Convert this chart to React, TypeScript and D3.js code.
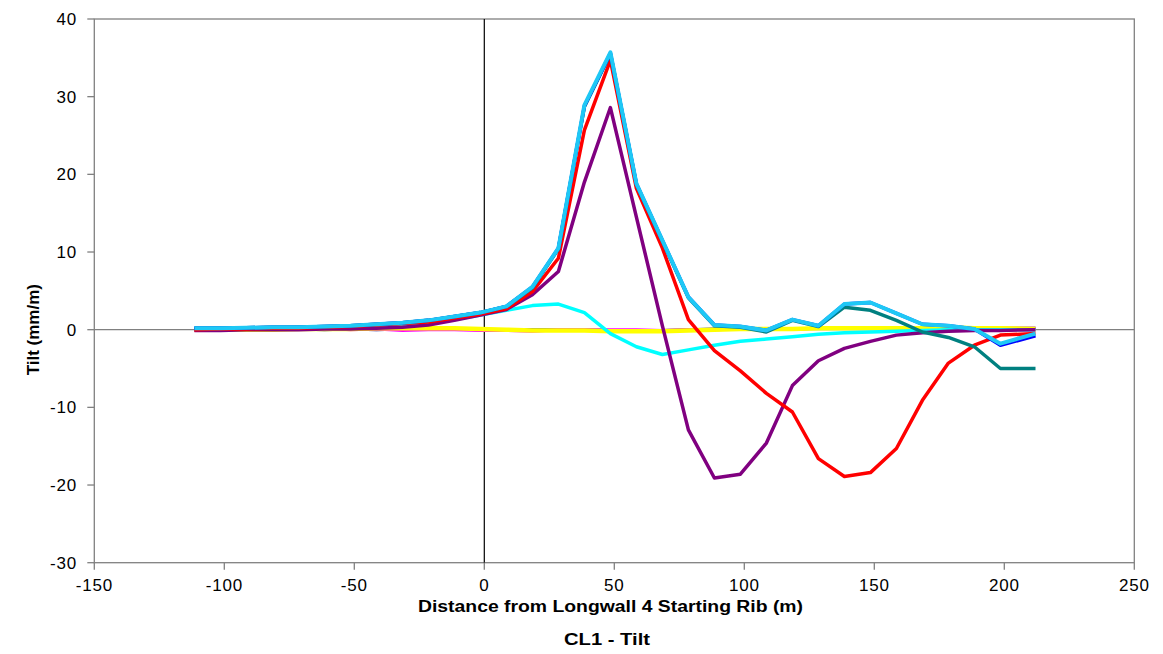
import React from "react";
import * as d3 from "d3";

const xValues = [-111.5, -101.5, -91.5, -81.5, -71.5, -61.5, -51.5, -41.5, -31.5, -21.5, -11.5, -1.5, 8.5, 18.5, 28.5, 38.5, 48.5, 58.5, 68.5, 78.5, 88.5, 98.5, 108.5, 118.5, 128.5, 138.5, 148.5, 158.5, 168.5, 178.5, 188.5, 198.5, 212];

const navy = [0.0, 0.0, 0.0, 0.0, 0.1, 0.0, 0.1, 0.0, 0.1, 0.1, 0.1, 0.0, 0.0, 0.0, 0.0, 0.0, -0.1, -0.1, -0.1, 0.0, 0.1, 0.1, 0.1, 0.1, 0.2, 0.2, 0.2, 0.2, 0.2, 0.2, 0.2, 0.2, 0.2];
const magenta = [-0.1, 0.1, 0.0, 0.0, 0.1, 0.2, 0.0, 0.1, -0.1, 0.0, 0.0, -0.1, -0.1, -0.2, 0.0, 0.0, 0.0, 0.0, -0.1, 0.0, 0.0, 0.1, 0.1, 0.1, 0.2, 0.2, 0.2, 0.2, 0.2, 0.2, 0.2, 0.2, 0.2];
const yellow = [0.0, 0.0, 0.0, 0.0, 0.1, 0.1, 0.1, 0.2, 0.2, 0.2, 0.2, 0.1, 0.0, -0.1, -0.1, -0.1, -0.2, -0.2, -0.2, -0.1, 0.0, 0.1, 0.1, 0.1, 0.2, 0.2, 0.2, 0.2, 0.2, 0.3, 0.2, 0.2, 0.1];
const cyan = [0.2, 0.2, 0.2, 0.2, 0.3, 0.3, 0.4, 0.5, 0.7, 0.9, 1.3, 1.9, 2.5, 3.1, 3.3, 2.2, -0.5, -2.2, -3.2, -2.6, -2.0, -1.5, -1.2, -0.9, -0.6, -0.4, -0.3, -0.2, -0.1, 0.0, 0.0, 0.0, 0.0];
const purple = [-0.1, -0.1, 0.0, 0.0, 0.0, 0.1, 0.1, 0.2, 0.3, 0.6, 1.2, 1.9, 2.6, 4.5, 7.5, 19.0, 28.6, 14.5, 0.5, -12.9, -19.1, -18.6, -14.6, -7.2, -4.0, -2.4, -1.5, -0.7, -0.4, -0.2, -0.1, -0.1, 0.0];
const red = [0.0, 0.1, 0.1, 0.2, 0.2, 0.3, 0.4, 0.6, 0.8, 1.0, 1.5, 2.0, 2.7, 4.9, 9.2, 25.7, 34.7, 18.2, 10.5, 1.3, -2.7, -5.3, -8.2, -10.6, -16.6, -18.9, -18.4, -15.3, -9.1, -4.3, -2.0, -0.7, -0.5];
const teal = [0.2, 0.2, 0.25, 0.3, 0.3, 0.4, 0.5, 0.7, 0.9, 1.2, 1.7, 2.2, 3.0, 5.4, 10.4, 28.7, 35.5, 18.7, 11.4, 4.1, 0.5, 0.3, -0.3, 1.2, 0.4, 2.9, 2.5, 1.2, -0.3, -1.0, -2.2, -5.0, -5.0];
const blue = [0.2, 0.2, 0.25, 0.3, 0.3, 0.4, 0.5, 0.7, 0.9, 1.2, 1.7, 2.2, 3.0, 5.5, 10.5, 28.8, 35.6, 18.8, 11.5, 4.2, 0.6, 0.4, -0.1, 1.3, 0.5, 3.3, 3.5, 2.1, 0.7, 0.5, 0.1, -2.0, -0.8];
const skyBlue = [0.2, 0.2, 0.25, 0.3, 0.3, 0.4, 0.5, 0.7, 0.9, 1.2, 1.7, 2.2, 3.0, 5.5, 10.5, 28.9, 35.7, 18.8, 11.5, 4.2, 0.6, 0.4, -0.1, 1.3, 0.5, 3.3, 3.5, 2.1, 0.7, 0.5, 0.1, -1.8, -0.5];

const seriesList = [
  { name: "navy", values: navy, color: "#000080", width: 3 },
  { name: "magenta", values: magenta, color: "#FF00FF", width: 3 },
  { name: "yellow", values: yellow, color: "#FFFF00", width: 4.5 },
  { name: "cyan", values: cyan, color: "#00FFFF", width: 3.5 },
  { name: "purple", values: purple, color: "#800080", width: 3.5 },
  { name: "red", values: red, color: "#FF0000", width: 3.5 },
  { name: "teal", values: teal, color: "#008080", width: 3.5 },
  { name: "blue", values: blue, color: "#0000FF", width: 3.5 },
  { name: "skyblue", values: skyBlue, color: "#1EC8F5", width: 4 },
];

const xTicks = [-150, -100, -50, 0, 50, 100, 150, 200, 250];
const yTicks = [-30, -20, -10, 0, 10, 20, 30, 40];

const W = 1163;
const H = 654;
const left = 94.3, right = 1134.3, top = 19, bottom = 562.7;

export default function App() {
  const x = d3.scaleLinear().domain([-150, 250]).range([left, right]);
  const y = d3.scaleLinear().domain([-30, 40]).range([bottom, top]);
  const line = d3
    .line<[number, number]>()
    .x((d) => x(d[0]))
    .y((d) => y(d[1]));
  const font = "'Liberation Sans', Arial, sans-serif";
  return (
    <svg
      width={W}
      height={H}
      style={{ position: "absolute", left: 0, top: 0, display: "block", background: "#fff" }}
    >
      <rect x={0} y={0} width={W} height={H} fill="#fff" />
      <rect x={left} y={top} width={right - left} height={bottom - top} fill="none" stroke="#808080" strokeWidth={1.3} />
      <line x1={left} x2={right} y1={y(0)} y2={y(0)} stroke="#808080" strokeWidth={1.3} />
      <line x1={x(0)} x2={x(0)} y1={top} y2={bottom} stroke="#000" strokeWidth={1.2} />
      {yTicks.map((t) => (
        <g key={"y" + t}>
          <line x1={left - 7} x2={left} y1={y(t)} y2={y(t)} stroke="#808080" strokeWidth={1.3} />
          <text x={77} y={y(t)} dy="0.36em" textAnchor="end" fontFamily={font} fontSize={17} letterSpacing={0.8}>
            {t}
          </text>
        </g>
      ))}
      {xTicks.map((t) => (
        <g key={"x" + t}>
          <line x1={x(t)} x2={x(t)} y1={bottom} y2={bottom + 7} stroke="#808080" strokeWidth={1.3} />
          <text x={x(t)} y={585} dy="0.36em" textAnchor="middle" fontFamily={font} fontSize={17} letterSpacing={0.8}>
            {t}
          </text>
        </g>
      ))}
      {seriesList.map((s) => (
        <path
          key={s.name}
          d={line(xValues.map((xv, i) => [xv, s.values[i]] as [number, number])) || ""}
          fill="none"
          stroke={s.color}
          strokeWidth={s.width}
          strokeLinejoin="round"
        />
      ))}
      <text x={610.5} y={612} textAnchor="middle" fontFamily={font} fontSize={16} fontWeight="bold"
        textLength={385} lengthAdjust="spacingAndGlyphs">
        Distance from Longwall 4 Starting Rib (m)
      </text>
      <text x={607} y={645} textAnchor="middle" fontFamily={font} fontSize={16} fontWeight="bold"
        textLength={86} lengthAdjust="spacingAndGlyphs">
        CL1 - Tilt
      </text>
      <text
        transform={`translate(39, ${y(0)}) rotate(-90)`}
        textAnchor="middle"
        fontFamily={font}
        fontSize={17}
        fontWeight="bold"
      >
        Tilt (mm/m)
      </text>
    </svg>
  );
}
